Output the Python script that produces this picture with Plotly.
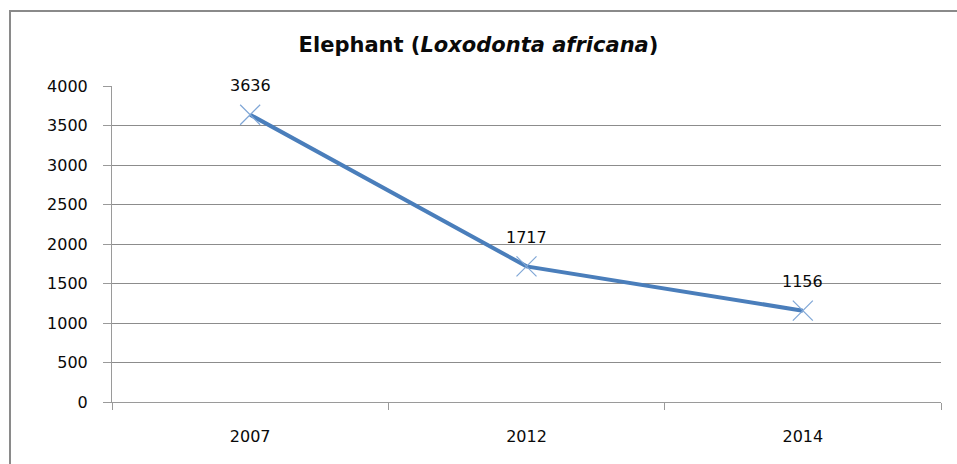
import plotly.graph_objects as go

years = ["2007", "2012", "2014"]
counts = [3636, 1717, 1156]
y_ticks = [0, 500, 1000, 1500, 2000, 2500, 3000, 3500, 4000]

W, H = 957, 464
L, R, T, B = 112, 16, 86, 62
pw, ph = W - L - R, H - T - B

def px_x(p):
    return (p - L) / pw

def px_y(p):
    return (H - B - p) / ph

line_color = "#4A7EBB"
FONT = "DejaVu Sans"

fig = go.Figure()
fig.add_trace(go.Scatter(
    x=years, y=counts, mode="lines+markers",
    line=dict(color=line_color, width=4),
    marker=dict(symbol="x-thin-open", size=20, line=dict(color="#7FA6D6", width=1.2), color="#7FA6D6"),
    hoverinfo="skip", showlegend=False,
))

for i, v in enumerate(counts):
    fig.add_annotation(x=i, y=v, text=str(v), showarrow=False, yshift=29,
                       font=dict(family=FONT, size=16, color="#0a0a0a"))

fig.add_shape(type="rect", xref="paper", yref="paper",
              x0=px_x(10), x1=px_x(975), y0=px_y(480), y1=px_y(11),
              line=dict(color="#8A8A8A", width=2), fillcolor="rgba(0,0,0,0)", layer="below")

fig.update_layout(
    width=W, height=H,
    margin=dict(l=L, r=R, t=T, b=B),
    paper_bgcolor="white", plot_bgcolor="white",
    title=dict(text="<b>Elephant (<i>Loxodonta africana</i>)</b>", x=0.5, xanchor="center",
               y=1 - 45 / H, yanchor="middle",
               font=dict(family=FONT, size=21, color="#0a0a0a")),
    xaxis=dict(type="category", range=[-0.5, 2.5], tickson="boundaries",
               showgrid=False, showline=True, linecolor="#9A9A9A", linewidth=1,
               ticks="outside", ticklen=7, tickcolor="#9A9A9A",
               ticklabelstandoff=20,
               tickfont=dict(family=FONT, size=16, color="#0a0a0a"),
               zeroline=False, fixedrange=True),
    yaxis=dict(range=[0, 4000], tickvals=y_ticks, ticktext=[str(t) for t in y_ticks],
               showgrid=True, gridcolor="#8C8C8C", gridwidth=1,
               showline=True, linecolor="#9A9A9A", linewidth=1,
               ticks="outside", ticklen=8, tickcolor="#9A9A9A",
               ticklabelstandoff=12,
               tickfont=dict(family=FONT, size=16, color="#0a0a0a"),
               zeroline=False, fixedrange=True),
)

fig.write_html("out.html", config={"displayModeBar": False},
               post_script="document.body.style.margin='0';document.body.style.padding='0';")
